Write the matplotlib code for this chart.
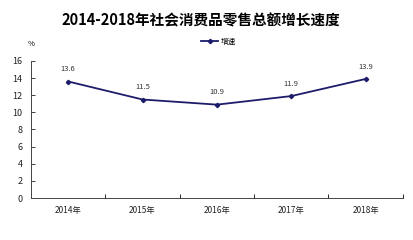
import matplotlib
matplotlib.use("Agg")
import matplotlib.pyplot as plt

plt.rcParams['font.family'] = ['Noto Sans CJK SC', 'DejaVu Sans']

years = ["2014年", "2015年", "2016年", "2017年", "2018年"]
growth = [13.6, 11.5, 10.9, 11.9, 13.9]
y_ticks = [0, 2, 4, 6, 8, 10, 12, 14, 16]

line_color = "#1c1c6b"

fig = plt.figure(figsize=(4.14, 2.4), dpi=100)
ax = fig.add_axes([0.075, 0.175, 0.898, 0.571])

x = list(range(len(years)))
ax.plot(x, growth, color=line_color, linewidth=1.3, marker="D", markersize=2.2, label="增速")
for xi, v in zip(x, growth):
    ax.annotate(f"{v}", (xi, v), xytext=(0, 6), textcoords="offset points",
                ha="center", va="bottom", fontsize=5.5, color="#333333")

ax.set_xlim(-0.5, len(years) - 0.5)
ax.set_ylim(0, 16)
ax.set_yticks(y_ticks)
ax.set_xticks([i + 0.5 for i in range(-1, len(years))], minor=False)
ax.set_xticklabels([])
ax.set_xticks(x, minor=True)
ax.set_xticklabels(years, minor=True)
ax.tick_params(axis="x", which="major", direction="in", length=3, width=0.6)
ax.tick_params(axis="x", which="minor", length=0, labelsize=6, pad=6, colors="#222222")
ax.tick_params(axis="y", direction="in", length=3, width=0.6, labelsize=6.5, pad=6, colors="#222222")

for s in ["top", "right"]:
    ax.spines[s].set_visible(False)
for s in ["left", "bottom"]:
    ax.spines[s].set_linewidth(0.7)
    ax.spines[s].set_color("#444444")

fig.text(0.485, 0.915, "2014-2018年社会消费品零售总额增长速度", ha="center", va="center",
         fontsize=10.5, fontweight="bold")
fig.text(0.075, 0.815, "%", ha="center", va="center", fontsize=5.5)
ax.legend(loc="center", bbox_to_anchor=(0.505, 1.14), frameon=False, fontsize=5.5,
          handlelength=2.2, handletextpad=0.4)

fig.savefig("out.png", dpi=100)
